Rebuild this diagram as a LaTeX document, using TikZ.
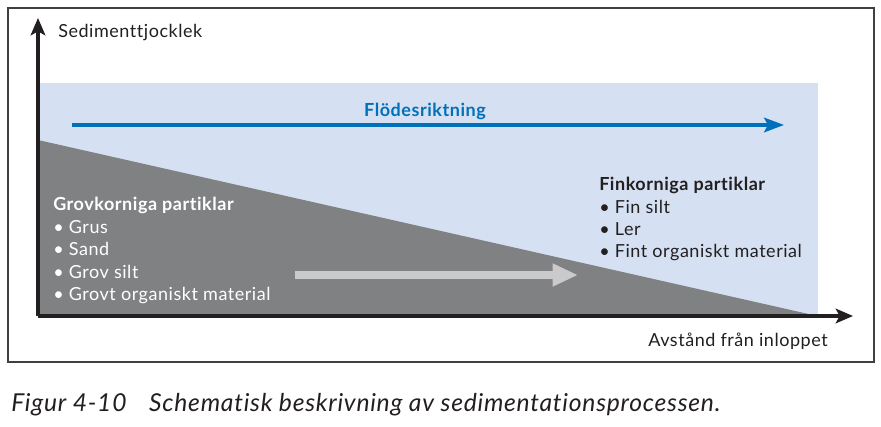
\documentclass[tikz,border=0pt]{standalone}
\usepackage{fontspec}
\setmainfont{Lato}[Ligatures=NoCommon,LetterSpace=3]
\usetikzlibrary{arrows.meta,positioning}
\definecolor{skyfill}{RGB}{213,225,242}
\definecolor{sedgray}{RGB}{128,129,131}
\definecolor{flowblue}{RGB}{0,112,186}
\definecolor{lightarrow}{RGB}{202,202,204}
\definecolor{inkblack}{RGB}{35,31,32}

\begin{document}
\begin{tikzpicture}[x=0.75pt,y=-0.75pt,font=\fontsize{13.5}{16}\selectfont,
  axis/.style={draw=inkblack,line width=2.3pt,-{Stealth[length=13pt,width=11pt,inset=3pt]}},
  axislabel/.style={text=inkblack,inner sep=0pt}]
\useasboundingbox (0,0) rectangle (881,427);
\draw[draw=black!75,line width=1.5pt] (8,8) rectangle (874,362);
% bakgrund och sediment
\fill[skyfill] (38,83) rectangle (818,315);
\fill[sedgray] (38,140) -- (813,315) -- (38,315) -- cycle;
% axlar
\coordinate (origo) at (38,316);
\coordinate (ytop) at (38,18);
\coordinate (xend) at (853,316);
\draw[axis] (origo) -- (ytop);
\draw[axis] (origo) -- (xend);
\node[axislabel,anchor=base west] (ylab) at (58,38) {Sedimenttjocklek};
\node[axislabel,anchor=base east] (xlab) at (828,346) {Avstånd från inloppet};
% flödesriktning
\node[font=\fontsize{13.5}{16}\selectfont\bfseries,text=flowblue,anchor=base,inner sep=0pt] (flow) at (425,117) {Flödesriktning};
\coordinate (flowstart) at (72,125);
\coordinate (flowend) at (784,125);
\draw[draw=flowblue,line width=2.3pt,-{Stealth[length=15pt,width=11pt,inset=3pt]}] (flowstart) -- (flowend);
% sedimenterande partiklar
\coordinate (sedstart) at (295,275);
\coordinate (sedend) at (578,275);
\draw[draw=lightarrow,line width=6.5pt,-{Triangle[length=19pt,width=16pt]}] (sedstart) -- (sedend);
\node[anchor=base west,inner sep=0pt,text=white,font=\fontsize{13.5}{16}\selectfont\bfseries] (grov) at (53,211) {Grovkorniga partiklar};
\foreach \t [count=\i] in {Grus,Sand,Grov silt,Grovt organiskt material}
  \node[anchor=base west,inner sep=0pt,text=white] (grov\i) at (53,211+22.5*\i) {• \t};
\node[anchor=base west,inner sep=0pt,text=inkblack,font=\fontsize{13.5}{16}\selectfont\bfseries] (fin) at (599,191) {Finkorniga partiklar};
\foreach \t [count=\i] in {Fin silt,Ler,Fint organiskt material}
  \node[anchor=base west,inner sep=0pt,text=inkblack] (fin\i) at (599,191+22.3*\i) {• \t};
% figurtext
\node[anchor=base west,inner sep=0pt,text=inkblack,font=\fontsize{18.5}{20}\selectfont\itshape] (caption) at (11,411) {Figur 4-10\hspace{17pt}Schematisk beskrivning av sedimentationsprocessen.};
\end{tikzpicture}
\end{document}
